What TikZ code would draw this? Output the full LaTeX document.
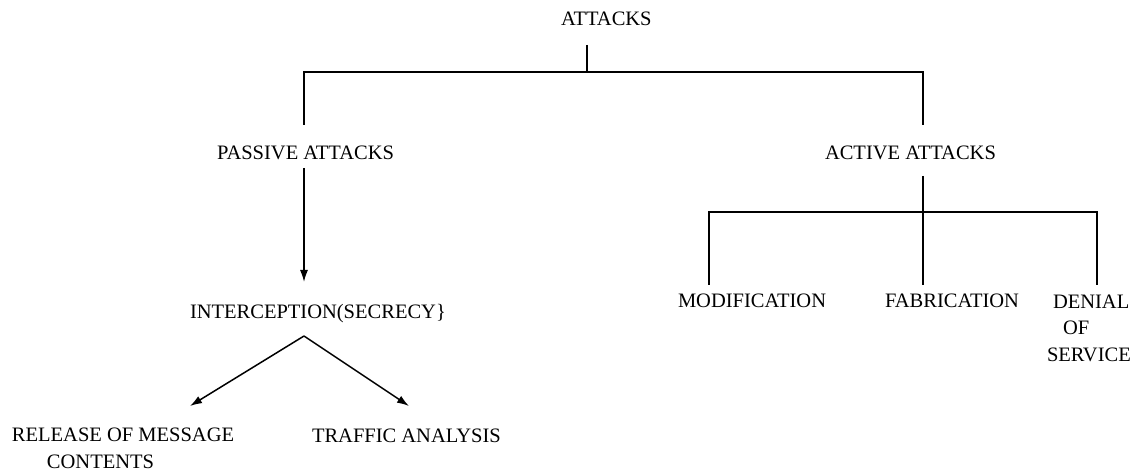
\documentclass[tikz,border=0pt]{standalone}
\usepackage{fontspec}
\setmainfont{Liberation Serif}
\usetikzlibrary{arrows.meta}
\begin{document}
\begin{tikzpicture}[x=1pt,y=-1pt,
  lbl/.style={inner sep=0pt, outer sep=0pt, font=\fontsize{20.5}{26.5}\selectfont, anchor=base west},
  link/.style={line width=1.5pt},
  arr/.style={line width=1.5pt,-{Latex[length=12pt,width=8pt]}}]
\useasboundingbox[fill=white] (0,0) rectangle (1136,473);
% labels
\node[lbl] (attacks) at (561,26) {ATTACKS};
\node[lbl] (passive) at (217,160) {PASSIVE ATTACKS};
\node[lbl] (active) at (825,160) {ACTIVE ATTACKS};
\node[lbl] (interception) at (190,319) {INTERCEPTION(SECRECY\}};
\node[lbl, align=left] (release) at (12,468) {RELEASE OF MESSAGE\\\hspace*{35pt}CONTENTS};
\node[lbl] (traffic) at (312,442) {TRAFFIC ANALYSIS};
\node[lbl] (modification) at (678,308) {MODIFICATION};
\node[lbl] (fabrication) at (885,308) {FABRICATION};
\node[lbl, align=left] (denial) at (1047,361) {\hspace*{6pt}DENIAL\\\hspace*{16pt}OF\\SERVICE};
% junction points
\coordinate (t0) at (587,45);
\coordinate (t1) at (587,72);
\coordinate (pl) at (304,72);
\coordinate (pr) at (923,72);
\coordinate (pl2) at (304,125);
\coordinate (pr2) at (923,125);
\coordinate (ps) at (304,168);
\coordinate (pe) at (304,282);
\coordinate (as) at (923,176);
\coordinate (aj) at (923,212);
\coordinate (ml) at (709,212);
\coordinate (mr) at (1097,212);
\coordinate (m1) at (709,285);
\coordinate (m2) at (923,285);
\coordinate (m3) at (1097,285);
\coordinate (apex) at (304,336);
\coordinate (lt) at (190,406);
\coordinate (rt) at (409,406);
% connectors
\draw[link] (t0) -- (t1);
\draw[link] (pl2) -- (pl) -- (pr) -- (pr2);
\draw[arr] (ps) -- (pe);
\draw[link] (as) -- (aj);
\draw[link] (m1) -- (ml) -- (mr) -- (m3);
\draw[link] (aj) -- (m2);
\draw[arr] (apex) -- (lt);
\draw[arr] (apex) -- (rt);
\end{tikzpicture}
\end{document}
